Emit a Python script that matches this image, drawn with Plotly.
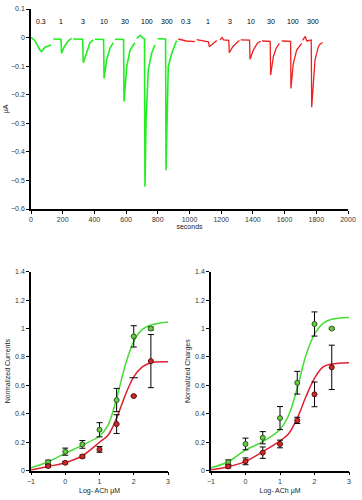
import plotly.graph_objects as go

# ---------------- data ----------------
# Top panel: current trace (seconds, microamps); None marks a break in the recording
green_t = [0, 25, 57, 67, 88, 126, None, 141, 183, 189, 193, 210, 235, 257, None, 267, 309, 326, 330, 351, 372,
           393, None, 404, 446, 458, 461, 477, 498, 519, None, 530, 576, 584, 587, 604, 625, 656, None, 667, 690,
           709, 716, 719, 726, 740, 761, 782, None, 799, 845, 849, 852, 866, 888, 909, 919]
green_v = [0.001, -0.011, -0.044, -0.049, -0.034, -0.026, None, -0.005, -0.005, -0.006, -0.055, -0.032, -0.011,
           -0.003, None, -0.005, -0.005, -0.006, -0.088, -0.055, -0.018, -0.008, None, -0.006, -0.006, -0.007,
           -0.143, -0.079, -0.038, -0.018, None, -0.006, -0.006, -0.007, -0.224, -0.102, -0.044, -0.018, None,
           -0.003, 0.008, -0.003, -0.004, -0.522, -0.289, -0.113, -0.055, -0.026, None, -0.004, -0.004, -0.005,
           -0.464, -0.102, -0.055, -0.026, -0.01]
red_t = [929, 980, 1035, None, 1045, 1087, 1120, 1125, 1150, 1172, None, 1192, 1205, 1215, 1235, 1248, 1251,
         1273, 1298, 1315, None, 1323, 1371, 1379, 1382, 1403, 1428, 1450, None, 1458, 1503, 1509, 1512, 1529,
         1546, 1567, None, 1582, 1634, 1638, 1640, 1655, 1676, 1708, None, 1714, 1730, 1740, 1760, 1768, 1771,
         1781, 1792, 1813, 1823, 1840]
red_v = [-0.005, -0.012, -0.014, None, -0.007, -0.01, -0.015, -0.032, -0.02, -0.01, None, -0.008, 0.0, -0.008,
         -0.008, -0.01, -0.053, -0.032, -0.018, -0.01, None, -0.008, -0.008, -0.009, -0.076, -0.044, -0.02,
         -0.013, None, -0.012, -0.012, -0.013, -0.131, -0.067, -0.038, -0.02, None, -0.012, -0.012, -0.013,
         -0.178, -0.09, -0.044, -0.02, None, -0.01, 0.004, -0.012, -0.008, -0.009, -0.244, -0.148, -0.078,
         -0.032, -0.023, -0.017]
dose_labels = ["0.3", "1", "3", "10", "30", "100", "300", "0.3", "1", "3", "10", "30", "100", "300"]
dose_label_t = [61, 189, 326, 463, 595, 730, 860, 976, 1117, 1256, 1386, 1516, 1653, 1781]

# Bottom panels: log ACh (uM)
log_ach = [-0.5, 0, 0.5, 1, 1.5, 2, 2.5]
cur_green = [0.059, 0.134, 0.185, 0.288, 0.497, 0.945, 1.0]
cur_green_err = [0.015, 0.025, 0.027, 0.05, 0.082, 0.075, 0.01]
cur_red = [0.033, 0.056, 0.10, 0.15, 0.328, 0.525, 0.771]
cur_red_err = [0.01, 0.008, 0.01, 0.02, 0.066, 0.0, 0.187]
cur_red_stray_cap_x = [2]
cur_red_stray_cap_y = [0.654]
chg_green = [0.059, 0.188, 0.232, 0.37, 0.619, 1.032, 1.0]
chg_green_err = [0.017, 0.041, 0.043, 0.081, 0.08, 0.085, 0.005]
chg_red = [0.03, 0.066, 0.127, 0.188, 0.354, 0.537, 0.727]
chg_red_err = [0.01, 0.024, 0.04, 0.027, 0.022, 0.087, 0.156]

# Fitted curves
fit_x = [-1, -0.5, 0, 0.5, 1, 1.25, 1.5, 1.75, 2, 2.25, 2.5, 3]
cur_fit_green = [0.021, 0.063, 0.122, 0.18, 0.244, 0.32, 0.51, 0.74, 0.91, 0.994, 1.025, 1.046]
cur_fit_red = [0.005, 0.03, 0.056, 0.105, 0.2, 0.25, 0.37, 0.53, 0.66, 0.73, 0.76, 0.767]
chg_fit_green = [0.021, 0.063, 0.145, 0.204, 0.29, 0.39, 0.58, 0.81, 0.96, 1.036, 1.065, 1.078]
chg_fit_red = [0.007, 0.028, 0.066, 0.134, 0.21, 0.26, 0.37, 0.52, 0.65, 0.73, 0.75, 0.76]

# ---------------- styles ----------------
FONT = "Liberation Sans, Arial, sans-serif"
TRACE_GREEN = "#22ee22"
TRACE_RED = "#ee2020"
FIT_GREEN = "#44dd33"
FIT_RED = "#dd2233"
PT_GREEN = "#66cc44"
PT_RED = "#cc2a2a"

fig = go.Figure()

fig.add_trace(go.Scatter(x=green_t, y=green_v, mode="lines", line=dict(color=TRACE_GREEN, width=1.6),
                         connectgaps=False, xaxis="x", yaxis="y", showlegend=False))
fig.add_trace(go.Scatter(x=red_t, y=red_v, mode="lines", line=dict(color=TRACE_RED, width=1.3),
                         connectgaps=False, xaxis="x", yaxis="y", showlegend=False))

def add_panel(xa, ya, fg, fr, g, ge, r, re):
    fig.add_trace(go.Scatter(x=fit_x, y=fg, mode="lines", line=dict(color=FIT_GREEN, width=1.5, shape="spline"),
                             xaxis=xa, yaxis=ya, showlegend=False))
    fig.add_trace(go.Scatter(x=fit_x, y=fr, mode="lines", line=dict(color=FIT_RED, width=1.5, shape="spline"),
                             xaxis=xa, yaxis=ya, showlegend=False))
    fig.add_trace(go.Scatter(x=log_ach, y=g, mode="markers",
                             marker=dict(color=PT_GREEN, size=5, line=dict(color="#2a5a20", width=1)),
                             error_y=dict(type="data", array=ge, color="black", thickness=1, width=3),
                             xaxis=xa, yaxis=ya, showlegend=False))
    fig.add_trace(go.Scatter(x=log_ach, y=r, mode="markers",
                             marker=dict(color=PT_RED, size=5, line=dict(color="#5a1010", width=1)),
                             error_y=dict(type="data", array=re, color="black", thickness=1, width=3),
                             xaxis=xa, yaxis=ya, showlegend=False))

add_panel("x2", "y2", cur_fit_green, cur_fit_red, cur_green, cur_green_err, cur_red, cur_red_err)
add_panel("x3", "y3", chg_fit_green, chg_fit_red, chg_green, chg_green_err, chg_red, chg_red_err)

fig.add_trace(go.Scatter(x=cur_red_stray_cap_x, y=cur_red_stray_cap_y, mode="markers",
                         marker=dict(symbol="line-ew", size=6, line=dict(color="black", width=1)),
                         xaxis="x2", yaxis="y2", showlegend=False))

for lab, t in zip(dose_labels, dose_label_t):
    fig.add_annotation(x=t, y=0.055, xref="x", yref="y", text=lab, showarrow=False,
                       font=dict(family=FONT, size=7, color="black"))

tickfont = dict(family=FONT, size=7, color="#333")
titlefont = dict(family=FONT, size=7, color="#222")
axis_common = dict(showline=True, linecolor="black", linewidth=1.5, ticks="outside", ticklen=3,
                   tickcolor="black", tickwidth=1, showgrid=False, zeroline=False, tickfont=tickfont,
                   mirror=False, automargin=False)

W, H = 362, 500
def dx(a, b):
    return [a / W, b / W]
def dy(top, bottom):
    return [1 - bottom / H, 1 - top / H]

fig.update_layout(
    width=W, height=H, margin=dict(l=0, r=0, t=0, b=0, autoexpand=False),
    paper_bgcolor="white", plot_bgcolor="white",
    xaxis=dict(domain=dx(31, 348), range=[0, 2000], tickvals=list(range(0, 2001, 200)),
               anchor="y", title=dict(text="seconds", font=titlefont, standoff=2), **axis_common),
    yaxis=dict(domain=dy(9, 209), range=[-0.6, 0.1],
               tickvals=[0.1, 0, -0.1, -0.2, -0.3, -0.4, -0.5, -0.6],
               ticktext=["0.1", "0", "−0.1", "−0.2", "−0.3", "−0.4", "−0.5", "−0.6"],
               anchor="x", title=dict(text="μA", font=titlefont, standoff=2), **axis_common),
    xaxis2=dict(domain=dx(31, 168), range=[-1, 3], tickvals=[-1, 0, 1, 2, 3],
                ticktext=["−1", "0", "1", "2", "3"], anchor="y2",
                title=dict(text="Log- ACh μM", font=titlefont, standoff=4), **axis_common),
    yaxis2=dict(domain=dy(271.7, 470.7), range=[0, 1.4], tickvals=[0, 0.2, 0.4, 0.6, 0.8, 1, 1.2, 1.4],
                ticktext=["0", "0.2", "0.4", "0.6", "0.8", "1", "1.2", "1.4"], anchor="x2",
                title=dict(text="Normalized Currents", font=titlefont, standoff=4), **axis_common),
    xaxis3=dict(domain=dx(211, 349), range=[-1, 3], tickvals=[-1, 0, 1, 2, 3],
                ticktext=["−1", "0", "1", "2", "3"], anchor="y3",
                title=dict(text="Log- ACh μM", font=titlefont, standoff=4), **axis_common),
    yaxis3=dict(domain=dy(271.7, 470.7), range=[0, 1.4], tickvals=[0, 0.2, 0.4, 0.6, 0.8, 1, 1.2, 1.4],
                ticktext=["0", "0.2", "0.4", "0.6", "0.8", "1", "1.2", "1.4"], anchor="x3",
                title=dict(text="Normalized Charges", font=titlefont, standoff=4), **axis_common),
)

fig.write_html("out.html", config={"displayModeBar": False},
               post_script="document.body.style.margin='0px';document.body.style.overflow='hidden';")
